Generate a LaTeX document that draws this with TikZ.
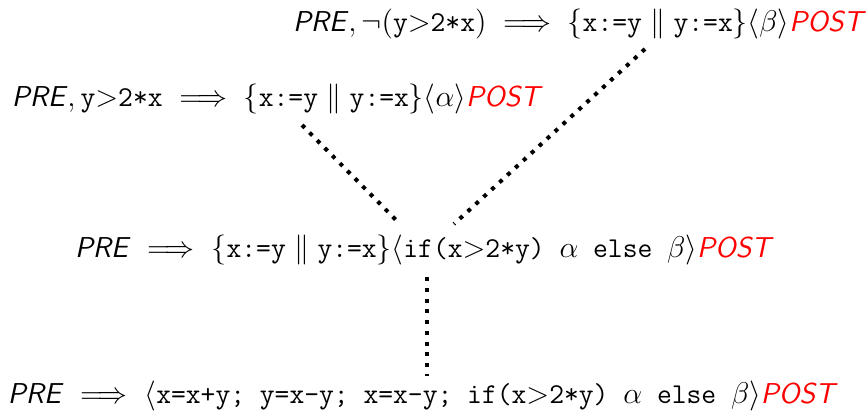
\documentclass[tikz,border=0pt]{standalone}
\usepackage{amsmath,amssymb}
\newcommand{\myPRE}{\textsf{\textit{PRE}}}
\newcommand{\myPOST}{\textcolor{red}{\textsf{\textit{POST}}}}
\newcommand{\tts}[1]{\texttt{#1}}
\begin{document}
\begin{tikzpicture}[x=0.4pt,y=-0.4pt,
  seq/.style={anchor=base west,inner sep=0pt,outer sep=0pt,font=\fontsize{11.5}{14}\selectfont},
  proofdots/.style={line width=1.6pt,dash pattern=on 1.6pt off 2.7pt,line cap=butt}]
\useasboundingbox (0,0) rectangle (867,415);
\node[seq] (s1) at (293,31) {$\myPRE, \neg(\tts{y}{>}\tts{2*x}) \implies \{\tts{x:=y} \parallel \tts{y:=x}\}\langle\beta\rangle\myPOST$};
\node[seq] (s2) at (12,106) {$\myPRE, \tts{y}{>}\tts{2*x} \implies \{\tts{x:=y} \parallel \tts{y:=x}\}\langle\alpha\rangle\myPOST$};
\node[seq] (s3) at (75,257) {$\myPRE \implies \{\tts{x:=y} \parallel \tts{y:=x}\}\langle\tts{if(x}{>}\tts{2*y) }\alpha\tts{ else }\beta\rangle\myPOST$};
\node[seq] (s4) at (8,403) {$\myPRE \implies \langle\tts{x=x+y; y=x-y; x=x-y; if(x}{>}\tts{2*y) }\alpha\tts{ else }\beta\rangle\myPOST$};
\coordinate (a1) at (645,49);
\coordinate (a2) at (454,224);
\coordinate (b1) at (302,125);
\coordinate (b2) at (400,224);
\coordinate (c1) at (427,277);
\coordinate (c2) at (427,376);
\draw[proofdots] (a1) -- (a2);
\draw[proofdots] (b1) -- (b2);
\draw[proofdots] (c1) -- (c2);
\end{tikzpicture}
\end{document}
